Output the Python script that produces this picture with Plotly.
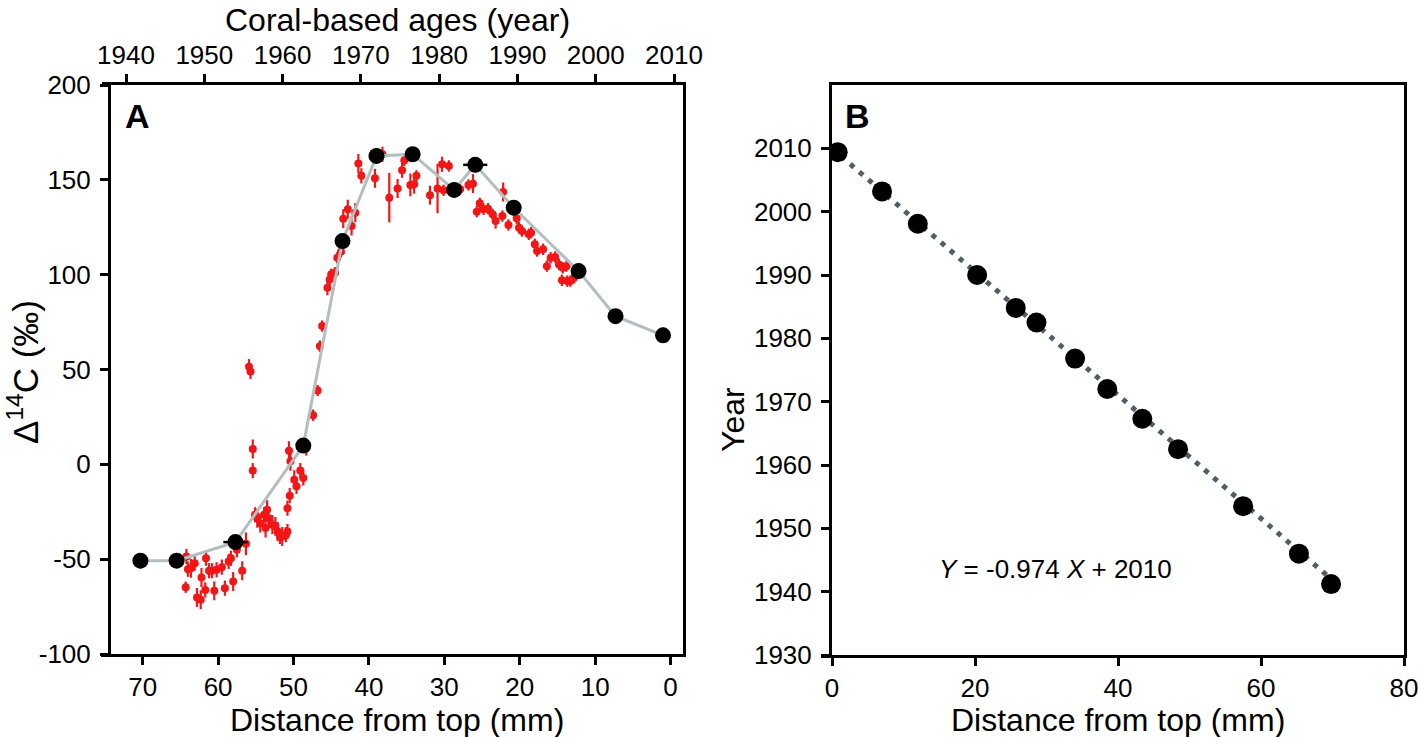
import plotly.graph_objects as go

# ---------------- Panel A data ----------------
# high-resolution (red) samples: distance from top (mm), D14C (permil), 1-sigma error
red_dist = [64.3, 64.2, 64.0, 63.6, 63.1, 62.8, 62.3, 62.2, 61.7, 61.6, 61.2, 60.8, 60.5, 60.2,
            59.5, 59.1, 58.6, 58.3, 58.0, 57.5, 56.8, 56.3, 55.9, 55.7, 55.4, 55.4, 55.1, 54.8,
            54.4, 53.9, 53.7, 53.5, 53.3, 52.8, 52.4, 52.1, 51.8, 51.5, 51.0, 50.8, 50.8, 50.5,
            50.6, 50.4, 49.9, 49.6, 49.1, 48.7, 48.3, 47.4, 46.8, 46.5, 46.2, 45.5, 45.2, 45.0,
            44.5, 44.2, 43.7, 43.4, 42.8, 42.3, 41.8, 41.4, 41.0, 39.2, 38.2, 37.3, 36.2, 35.6,
            35.3, 34.5, 34.0, 33.7, 31.9, 30.9, 30.3, 30.1, 29.4, 27.9, 26.8, 26.2, 25.7, 25.3,
            24.8, 24.2, 23.6, 23.2, 22.3, 22.2, 21.5, 20.4, 20.1, 19.7, 18.8, 18.5, 18.0, 17.7,
            16.9, 16.4, 15.9, 15.3, 14.8, 14.3, 13.8, 14.4, 13.7, 13.3, 12.8]
red_d14c = [-64.8, -48.6, -55.3, -54.8, -52.1, -70.2, -71.4, -59.7, -66.2, -49.5, -56.1, -56.1, -66.7, -55.6,
            -54.2, -65.3, -51.2, -49.5, -61.8, -45.0, -56.1, -41.9, 51.5, 49.0, 8.1, -3.3, -26.6, -28.4,
            -31.0, -26.6, -33.6, -23.9, -28.4, -31.8, -32.7, -35.4, -38.0, -38.0, -37.1, -35.4, -23.1, -16.5,
            7.2, 1.6, -8.1, -11.6, -3.3, -7.2, 8.6, 25.9, 38.9, 62.3, 72.9, 93.1, 97.5, 100.2,
            101.0, 108.9, 112.1, 129.5, 134.5, 125.7, 132.7, 158.6, 152.1, 150.8, 163.5, 140.6, 145.4, 155.1,
            160.3, 147.3, 147.7, 152.1, 141.9, 145.4, 158.2, 144.5, 157.3, 145.0, 147.3, 148.0, 133.2, 137.6,
            134.5, 134.8, 131.8, 128.3, 130.9, 143.6, 126.2, 129.7, 124.8, 123.0, 121.3, 122.1, 116.0, 112.5,
            113.4, 104.5, 108.9, 109.3, 105.4, 103.6, 104.5, 97.0, 96.6, 96.6, 98.4]
red_err = [3, 4, 4, 5, 4, 5, 5, 5, 4, 4, 4, 4, 5, 4,
           4, 4, 4, 4, 5, 4, 5, 6, 4, 4, 5, 4, 4, 5,
           5, 4, 5, 5, 5, 5, 5, 5, 4, 5, 4, 4, 4, 4,
           5, 5, 5, 4, 4, 4, 4, 3, 3, 3, 3, 4, 3, 3,
           3, 3, 3, 5, 5, 5, 5, 5, 4, 5, 4, 13, 5, 4,
           3, 6, 5, 3, 5, 13, 4, 3, 3, 3, 3, 5, 3, 3,
           3, 3, 3, 4, 3, 5, 3, 3, 3, 3, 3, 3, 3, 3,
           3, 3, 3, 3, 3, 3, 3, 3, 3, 3, 3]

# coral-dated (black) samples
black_dist = [70.3, 65.5, 57.7, 48.7, 43.5, 39.0, 34.2, 28.7, 25.9, 20.8, 12.2, 7.3, 1.0]
black_d14c = [-50.8, -50.8, -41.0, 9.9, 117.7, 162.6, 163.5, 144.7, 157.9, 135.3, 101.9, 78.1, 68.0]
black_err_y = [4, 3, 3, 3, 3, 4, 3, 4, 3, 4, 4, 3, 4]
black_err_x = [0.6, 0.6, 1.6, 0.6, 0.6, 0.6, 0.6, 0.6, 1.6, 0.6, 0.6, 0.6, 0.6]

dist_ticks_a = [70, 60, 50, 40, 30, 20, 10, 0]
year_ticks_top = [1940, 1950, 1960, 1970, 1980, 1990, 2000, 2010]
d14c_ticks = [-100, -50, 0, 50, 100, 150, 200]

# ---------------- Panel B data ----------------
b_dist = [0.8, 7.0, 12.0, 20.3, 25.7, 28.6, 34.0, 38.5, 43.4, 48.4, 57.5, 65.3, 69.8]
b_year = [2009.4, 2003.2, 1998.1, 1990.0, 1984.8, 1982.5, 1976.8, 1972.0, 1967.3, 1962.5, 1953.5, 1946.0, 1941.2]
fit_slope = -0.974
fit_intercept = 2010
fit_x = [0.0, 71.0]
fit_y = [fit_slope * x + fit_intercept for x in fit_x]

dist_ticks_b = [0, 20, 40, 60, 80]
year_ticks_b = [1930, 1940, 1950, 1960, 1970, 1980, 1990, 2000, 2010]

W, H = 1418, 737
FONT = "Liberation Sans, Arial, Helvetica, sans-serif"
RED = "#f21616"

fig = go.Figure()

# red samples
fig.add_trace(go.Scatter(
    x=red_dist, y=red_d14c, mode="markers",
    marker=dict(color=RED, size=8),
    error_y=dict(type="data", array=red_err, color=RED, thickness=2.2, width=0),
    xaxis="x", yaxis="y", showlegend=False, hoverinfo="skip"))

# grey connecting line
fig.add_trace(go.Scatter(
    x=black_dist, y=black_d14c, mode="lines",
    line=dict(color="#b3bec1", width=3),
    xaxis="x", yaxis="y", showlegend=False, hoverinfo="skip"))

# black samples
fig.add_trace(go.Scatter(
    x=black_dist, y=black_d14c, mode="markers",
    marker=dict(color="black", size=16),
    error_y=dict(type="data", array=black_err_y, color="black", thickness=2.5, width=0),
    error_x=dict(type="data", array=black_err_x, color="black", thickness=2.5, width=0),
    xaxis="x", yaxis="y", showlegend=False, hoverinfo="skip"))

# dummy trace to activate top year axis
fig.add_trace(go.Scatter(
    x=year_ticks_top, y=[None] * len(year_ticks_top), mode="markers",
    xaxis="x2", yaxis="y", showlegend=False, hoverinfo="skip"))

# Panel B fit line
fig.add_trace(go.Scatter(
    x=fit_x, y=fit_y, mode="lines",
    line=dict(color="#505e68", width=5, dash="5px,7px"),
    xaxis="x3", yaxis="y2", showlegend=False, hoverinfo="skip"))

fig.add_trace(go.Scatter(
    x=b_dist, y=b_year, mode="markers",
    marker=dict(color="black", size=20),
    xaxis="x3", yaxis="y2", showlegend=False, hoverinfo="skip"))

axis_common = dict(showgrid=False, zeroline=False, showline=True, linecolor="black", linewidth=3,
                   ticks="outside", ticklen=8, tickwidth=2.5, tickcolor="black", automargin=False,
                   ticklabeloverflow="allow",
                   tickfont=dict(family=FONT, size=26, color="black"))


def labels(vals):
    return [str(v) for v in vals]


xa_dom = [111 / W, 683 / W]
ya_dom = [1 - 654 / H, 1 - 85 / H]
xb_dom = [832 / W, 1404 / W]
yb_dom = [1 - 655 / H, 1 - 85 / H]

fig.update_layout(
    width=W, height=H, margin=dict(l=0, r=0, t=0, b=0, autoexpand=False),
    paper_bgcolor="white", plot_bgcolor="white",
    font=dict(family=FONT, color="black"),
    xaxis=dict(domain=xa_dom, range=[74.2, -1.65], anchor="y", tickvals=dist_ticks_a,
               ticktext=labels(dist_ticks_a), **axis_common),
    xaxis2=dict(domain=xa_dom, range=[1938.08, 2011.15], anchor="y", overlaying="x", side="top",
                tickvals=year_ticks_top, ticktext=labels(year_ticks_top), **axis_common),
    yaxis=dict(domain=ya_dom, range=[-100, 200], anchor="x", tickvals=d14c_ticks,
               ticktext=labels(d14c_ticks), mirror=True, ticklabelstandoff=4, **axis_common),
    xaxis3=dict(domain=xb_dom, range=[0, 80], anchor="y2", tickvals=dist_ticks_b,
                ticktext=labels(dist_ticks_b), mirror=True, **axis_common),
    yaxis2=dict(domain=yb_dom, range=[1930, 2020], anchor="x3", tickvals=year_ticks_b,
                ticktext=labels(year_ticks_b), mirror=True, ticklabelstandoff=4, **axis_common),
)

# short extensions of the horizontal axis lines to the left of the y axes
ext = [
    (102, 112, 85 - 1.5),
    (101, 112, 654 + 1.5),
    (821, 833, 655 + 1.5),
]
fig.update_layout(shapes=[
    dict(type="line", xref="paper", yref="paper", x0=a / W, x1=b / W, y0=1 - y / H, y1=1 - y / H,
         line=dict(color="black", width=3))
    for a, b, y in ext
])

title_font = dict(family=FONT, size=32, color="black")
ann = [
    dict(text="Coral-based ages (year)", x=(111 + 683) / 2 / W, y=1.0, yanchor="top", font=title_font),
    dict(text="Distance from top (mm)", x=(111 + 683) / 2 / W, y=1 - 720 / H, font=title_font),
    dict(text="Distance from top (mm)", x=(832 + 1404) / 2 / W, y=1 - 720 / H, font=title_font),
    dict(text="Δ<sup>14</sup>C (‰)", x=23 / W, y=1 - 372 / H, font=dict(family=FONT, size=35, color="black"),
         textangle=-90),
    dict(text="Year", x=733 / W, y=1 - 420 / H, font=title_font, textangle=-90),
    dict(text="<b>A</b>", x=137 / W, y=1 - 116 / H, font=dict(family=FONT, size=34, color="black")),
    dict(text="<b>B</b>", x=858 / W, y=1 - 116 / H, font=dict(family=FONT, size=34, color="black")),
    dict(text="<i>Y</i> = -0.974 <i>X</i> + 2010", x=1055 / W, y=1 - 569 / H,
         font=dict(family=FONT, size=26, color="black")),
]
for a in ann:
    a.setdefault("yanchor", "middle")
    a.update(xref="paper", yref="paper", showarrow=False, xanchor="center")
fig.update_layout(annotations=ann)

fig.write_html("out.html", config={"displayModeBar": False},
               post_script="document.body.style.margin='0px';")
